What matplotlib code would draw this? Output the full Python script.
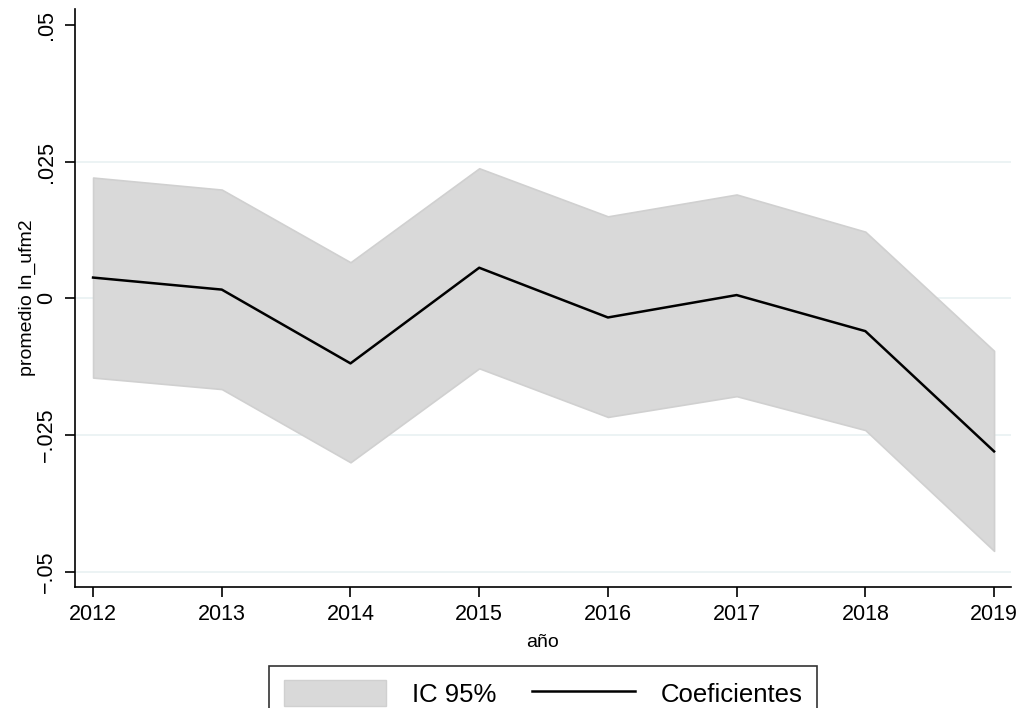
import numpy as np
import matplotlib.pyplot as plt
from matplotlib.patches import Patch
from matplotlib.lines import Line2D

plt.rcParams['font.family'] = ['Liberation Sans', 'DejaVu Sans']

# coeficientes por año e intervalo de confianza al 95%
anios    = [2012, 2013, 2014, 2015, 2016, 2017, 2018, 2019]
coef     = [0.0038, 0.0016, -0.0119, 0.0056, -0.0035, 0.0006, -0.0060, -0.0280]
ic_sup   = [0.0221, 0.0199, 0.0066, 0.0238, 0.0150, 0.0190, 0.0122, -0.0096]
ic_inf   = [-0.0145, -0.0166, -0.0300, -0.0128, -0.0217, -0.0179, -0.0241, -0.0462]

yticks      = [-0.05, -0.025, 0, 0.025, 0.05]
ytick_lbls  = ['\u2212.05', '\u2212.025', '0', '.025', '.05']

fig = plt.figure( figsize = ( 10.21, 7.08 ), dpi = 100 )
ax = fig.add_axes( [ 0.0735, 0.171, 0.9165, 0.816 ] )

for y in [ -0.05, -0.025, 0, 0.025 ]:
	ax.axhline( y, color = '#eaf2f3', lw = 1.3, zorder = 0 )

ax.fill_between( anios, ic_inf, ic_sup, facecolor = '#d9d9d9', edgecolor = '#d0d0d0', lw = 1.2, zorder = 1 )
ax.plot( anios, coef, color = 'black', lw = 1.8, zorder = 2 )

ax.set_xlim( 2011.86, 2019.13 )
ax.set_ylim( -0.0528, 0.0529 )
ax.set_xticks( anios )
ax.set_yticks( yticks )
ax.set_yticklabels( ytick_lbls, rotation = 90, va = 'center' )
ax.tick_params( labelsize = 15.5, length = 7, width = 1.2, color = 'black' )
ax.tick_params( axis = 'x', pad = 5 )
ax.tick_params( axis = 'y', pad = 6 )

for s in [ 'top', 'right' ]:
	ax.spines[ s ].set_visible( False )
for s in [ 'left', 'bottom' ]:
	ax.spines[ s ].set_linewidth( 1.2 )

ax.set_xlabel( 'año', fontsize = 14, labelpad = 7 )
ax.set_ylabel( 'promedio ln_ufm2', fontsize = 14, labelpad = 0 )

handles = [ Patch( facecolor = '#d9d9d9', edgecolor = '#d0d0d0', label = 'IC 95%' ),
	Line2D( [], [], color = 'black', lw = 1.8, label = 'Coeficientes' ) ]
leg = fig.legend( handles = handles, loc = 'upper center', bbox_to_anchor = ( 0.532, 0.062 + 0.016 ),
	ncol = 2, fontsize = 18.5, frameon = True, fancybox = False, edgecolor = 'black',
	handlelength = 4.0, handleheight = 1.2, handletextpad = 1.0, columnspacing = 1.4, borderpad = 0.55 )
leg.get_frame().set_linewidth( 1.2 )

fig.savefig( 'out.png', dpi = 100 )
